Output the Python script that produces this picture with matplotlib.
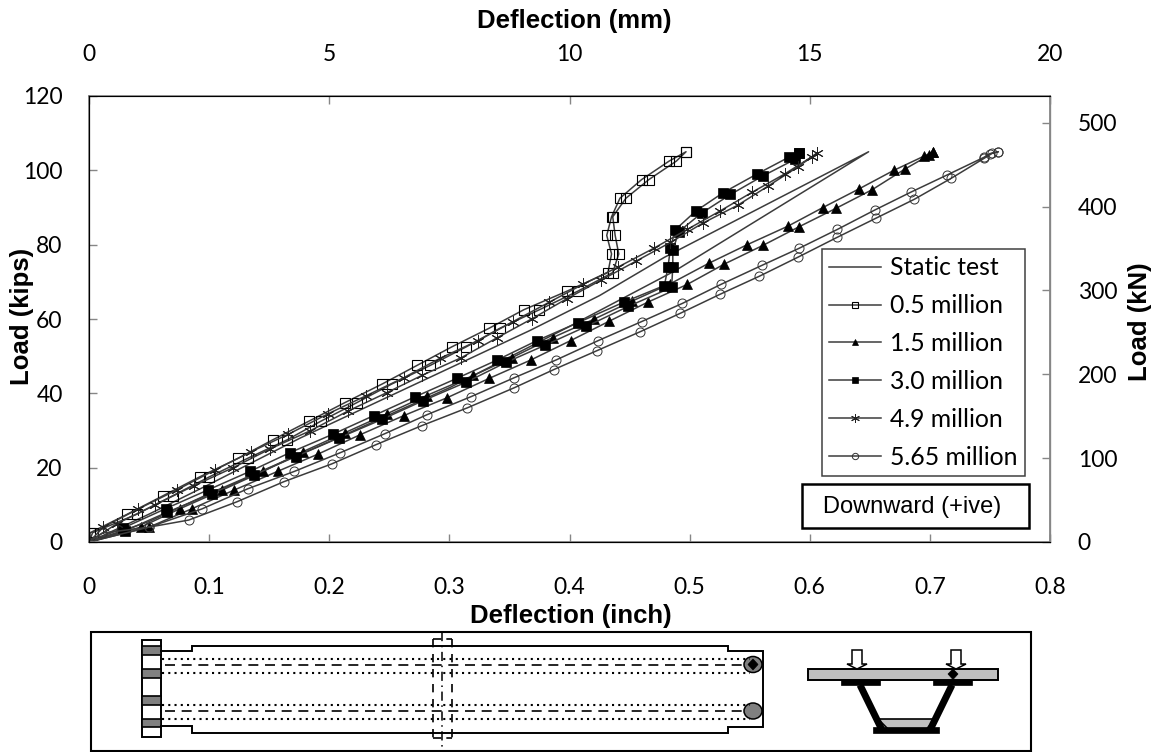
import matplotlib
matplotlib.use("Agg")
import matplotlib.pyplot as plt
import numpy as np
from matplotlib.patches import Rectangle, Ellipse, Polygon

# load (kips) and deflection (inch), loading branch then unloading branch
static_p_a = [0, 7.5, 15.5, 28, 56.9, 66.3, 76.6, 105]
static_x_a = [0, .05, .1, .176, .367, .425, .479, .649]
static_p_b = [0, 5.5, 13, 27, 41.5, 58, 73, 105]
static_x_b = [0, .05, .1, .2, .3, .4, .488, .649]

m05_p = [0, 2.5, 7.5, 12.5, 17.5, 22.5, 27.5, 32.5, 37.5, 42.5, 47.5, 52.5, 57.5, 62.5, 67.5,
         72.5, 77.5, 82.5, 87.5, 92.5, 97.5, 102.5, 105]
m05_x_a = [0, .001, .032, .062, .092, .124, .153, .183, .213, .244, .273, .302, .333, .362, .398,
           .432, .435, .431, .435, .442, .460, .483, .497]
m05_x_b = [0, .003, .040, .070, .100, .132, .165, .193, .223, .252, .284, .314, .342, .375, .407,
           .436, .441, .438, .436, .447, .466, .489, .497]

m15_p_a = [0, 4, 9, 14, 19, 24.3, 29.4, 34.5, 39.4, 44.8, 49.6, 55, 59.9, 64.8, 69.5, 75, 80, 85,
           90, 95, 100, 103.8, 105]
m15_x_a = [0, .043, .076, .111, .145, .178, .213, .248, .281, .320, .352, .386, .420, .452, .484,
           .516, .548, .582, .611, .641, .670, .695, .703]
m15_p_b = [0, 4, 9, 14, 19, 23.7, 28.9, 34, 38.8, 44, 49, 54.2, 59.4, 64.5, 69.3, 74.8, 79.8, 84.8,
           89.8, 94.8, 100.3, 104, 105]
m15_x_b = [0, .050, .086, .121, .157, .191, .226, .262, .298, .333, .368, .401, .433, .465, .498,
           .529, .561, .591, .622, .652, .679, .699, .703]

m30_p_a = [0, 3.7, 9, 14, 19, 24, 29, 34, 39, 44, 49, 54.2, 59, 64.5, 69, 74, 79, 84, 89, 94, 99,
           103.6, 104.6]
m30_x_a = [0, .028, .064, .099, .134, .167, .203, .237, .271, .306, .340, .373, .407, .445, .479,
           .482, .484, .488, .505, .528, .556, .583, .591]
m30_p_b = [0, 3, 8, 13, 18, 23, 28, 33, 38, 43, 48.3, 53, 58, 63.4, 68.5, 74, 78.5, 83.5, 88.5,
           93.5, 98.5, 103, 104.6]
m30_x_b = [0, .030, .065, .102, .137, .172, .208, .244, .278, .314, .347, .380, .414, .449, .485,
           .486, .486, .491, .510, .534, .561, .588, .591]

m49_p_a = [0, 4, 8.9, 14, 19.4, 24.3, 29, 34.5, 39.4, 44.2, 49.4, 54.2, 59.3, 64.5, 69.3, 73.9, 79,
           84.1, 89, 94.1, 99, 103.7]
m49_x_a = [0, .012, .041, .073, .105, .135, .166, .199, .231, .262, .292, .324, .353, .383, .411,
           .440, .470, .498, .525, .552, .579, .602]
m49_p_b = [0, 4.9, 10, 15.1, 20, 25.1, 29.9, 35.3, 40.2, 44.8, 49.6, 55, 60.1, 65.5, 70.4, 75.5,
           80.6, 85.8, 90.6, 95.7, 100.9, 104.6]
m49_x_b = [0, .023, .055, .087, .120, .151, .184, .216, .248, .277, .310, .340, .369, .398, .426,
           .455, .484, .511, .540, .565, .590, .606]

m565_p_a = [0, 2.4, 4, 8.9, 14.3, 19, 24, 29.1, 34.2, 39.1, 44.2, 49, 54.2, 59.3, 64.2, 69.3, 74.4,
            79, 84.1, 89.3, 94.1, 98.7, 103.5, 104.5, 105]
m565_x_a = [0, .011, .05, .094, .132, .171, .209, .246, .281, .318, .354, .389, .424, .460, .494,
            .526, .560, .591, .623, .654, .684, .714, .745, .750, .757]
m565_p_b = [0, 4, 5.9, 10.8, 16.2, 21, 26.2, 31.3, 36.1, 41.5, 46.4, 51.5, 56.6, 61.5, 66.6, 71.5,
            76.6, 82, 87.1, 92.2, 97.9, 103.2, 104.6, 105]
m565_x_b = [0, .05, .083, .123, .162, .202, .239, .277, .315, .354, .387, .423, .459, .492, .525,
            .558, .590, .623, .655, .687, .718, .745, .752, .757]

x_ticks = [0, .1, .2, .3, .4, .5, .6, .7, .8]
x_tick_labels = ["0", "0.1", "0.2", "0.3", "0.4", "0.5", "0.6", "0.7", "0.8"]
y_ticks = [0, 20, 40, 60, 80, 100, 120]
mm_ticks = [0, 5, 10, 15, 20]
kn_ticks = [0, 100, 200, 300, 400, 500]

W, H = 1157, 752
GRAY = "#868686"
LINE = "#3c3c3c"
TICK_FONT = "Lato"
BOLD = "Liberation Sans"
LABEL_SIZE = 18.5

fig = plt.figure(figsize=(W / 100, H / 100), dpi=100)
ax = fig.add_axes([89 / W, 1 - 542 / H, 961 / W, 446 / H])


def loop(pa, xa, pb, xb):
    return np.r_[xa, xb[::-1]], np.r_[pa, pb[::-1]]


def label_at(axis, px, py):
    # put an axis label at a picture position, given in pixels
    axis.set_label_coords((px - 89) / 961, (542 - py) / 446)
    axis.label.set_va("center")
    axis.label.set_ha("center")


x, p = loop(static_p_a, static_x_a, static_p_b, static_x_b)
ax.plot(x, p, color=LINE, lw=1.1, label="Static test")

x, p = loop(m05_p, m05_x_a, m05_p, m05_x_b)
ax.plot(x, p, color=LINE, lw=1.1, marker="s", ms=6.5, mfc="none", mec="k", mew=0.8, label="0.5 million")

x, p = loop(m15_p_a, m15_x_a, m15_p_b, m15_x_b)
ax.plot(x, p, color=LINE, lw=1.1, marker="^", ms=6.5, mfc="k", mec="k", mew=0.5, label="1.5 million")

x, p = loop(m30_p_a, m30_x_a, m30_p_b, m30_x_b)
ax.plot(x, p, color=LINE, lw=1.1, marker="s", ms=6.5, mfc="k", mec="k", mew=0.5, label="3.0 million")

x, p = loop(m49_p_a, m49_x_a, m49_p_b, m49_x_b)
ax.plot(x, p, color=LINE, lw=1.1, marker=(6, 2, 0), ms=9, mec="#222222", mew=0.7, label="4.9 million")

x, p = loop(m565_p_a, m565_x_a, m565_p_b, m565_x_b)
ax.plot(x, p, color=LINE, lw=1.1, marker="o", ms=6.5, mfc="none", mec="#333333", mew=0.7, label="5.65 million")

ax.set_xlim(0, .8)
ax.set_ylim(0, 120)
ax.set_xticks(x_ticks)
ax.set_xticklabels(x_tick_labels)
ax.set_yticks(y_ticks)
ax.tick_params(axis="x", direction="in", length=6, width=1, color=GRAY, pad=25,
               labelsize=16.5, labelfontfamily=TICK_FONT)
ax.tick_params(axis="y", direction="in", length=6, width=1, color=GRAY, pad=19,
               labelsize=16.5, labelfontfamily=TICK_FONT)
for s in ax.spines.values():
    s.set_color(GRAY)
    s.set_linewidth(1.2)
ax.set_xlabel("Deflection (inch)", fontname=BOLD, fontweight="bold", fontsize=LABEL_SIZE)
label_at(ax.xaxis, 571, 616)
ax.set_ylabel("Load (kips)", fontname=BOLD, fontweight="bold", fontsize=LABEL_SIZE)
label_at(ax.yaxis, 22, 316)
ax.patch.set_alpha(0)
ax.set_zorder(3)

top = ax.twiny()
top.set_xlim(0, 20)
top.set_xticks(mm_ticks)
top.tick_params(axis="x", direction="in", length=6, width=1, color=GRAY, pad=22,
                labelsize=16.5, labelfontfamily=TICK_FONT)
top.set_xlabel("Deflection (mm)", fontname=BOLD, fontweight="bold", fontsize=LABEL_SIZE)
label_at(top.xaxis, 574, 21)
top.spines["top"].set_color(GRAY)

right = ax.twinx()
right.set_ylim(0, 532)
right.set_yticks(kn_ticks)
right.tick_params(axis="y", direction="in", length=6, width=1, color=GRAY, pad=20,
                  labelsize=16.5, labelfontfamily=TICK_FONT)
right.set_ylabel("Load (kN)", fontname=BOLD, fontweight="bold", fontsize=LABEL_SIZE)
label_at(right.yaxis, 1140, 322)
right.spines["right"].set_color(GRAY)

leg = ax.legend(loc="upper left", bbox_to_anchor=((822 - 89) / 961, (542 - 249) / 446),
                borderaxespad=0, fancybox=False, framealpha=1, edgecolor="#404040",
                prop={"family": TICK_FONT, "size": 17.8}, handlelength=2.1, handletextpad=0.36,
                labelspacing=0.6, borderpad=0.3, markerscale=0.7)
leg.get_frame().set_linewidth(1.1)

# pixel overlay for the note box and the specimen sketch
ov = fig.add_axes([0, 0, 1, 1], zorder=5)
ov.set_xlim(0, W)
ov.set_ylim(H, 0)
ov.axis("off")

ov.add_patch(Rectangle((802, 484), 227, 44, fc="w", ec="k", lw=1.8))
ov.text(912, 507, "Downward (+ive)", ha="center", va="center", fontname=BOLD, fontsize=17)

# plan view
ov.add_patch(Rectangle((91, 631.5), 940, 119, fc="w", ec="k", lw=1.5))
outline_x = [161, 192, 192, 728, 728, 763, 763, 728, 728, 192, 192, 161]
outline_y = [651, 651, 645.5, 645.5, 651, 651, 727, 727, 733, 733, 726, 726]
ov.plot(outline_x, outline_y, color="k", lw=1.4, solid_joinstyle="miter")
ov.add_patch(Rectangle((142, 639.5), 19, 97, fc="w", ec="k", lw=1.4))
for y0, y1 in [(645.5, 655), (668.5, 677.5), (696, 705), (719, 727)]:
    ov.add_patch(Rectangle((142, y0), 19, y1 - y0, fc="#808080", ec="k", lw=1.2))
for y in [659, 673, 705, 719]:
    ov.plot([162, 750], [y, y], color="k", lw=1.5, ls=(0, (1, 2)))
for y in [665, 711]:
    ov.plot([165, 746], [y, y], color="k", lw=1.2, ls=(0, (6, 4)))
for xv in [432.5, 452]:
    ov.plot([xv, xv], [639, 738], color="k", lw=1.2, ls=(0, (5, 4)))
ov.plot([432.5, 452], [639, 639], color="k", lw=1.2, ls=(0, (5, 3)))
ov.plot([432.5, 452], [738, 738], color="k", lw=1.2, ls=(0, (5, 3)))
ov.plot([442, 442], [632, 749], color="k", lw=1.1, ls=(0, (6, 3, 1, 3)))
ov.add_patch(Ellipse((753, 664.5), 18, 16, fc="#808080", ec="k", lw=1.1))
ov.add_patch(Ellipse((753, 711), 18, 16, fc="#808080", ec="k", lw=1.1))
ov.add_patch(Polygon([(753, 659), (758, 664.5), (753, 670), (748, 664.5)], fc="k", ec="k", lw=0.5))

# cross section
ov.add_patch(Polygon([(878, 719), (935, 719), (925, 731), (890, 731)], fc="#c0c0c0", ec="k", lw=1.2))
ov.add_patch(Rectangle((808, 669), 190, 11, fc="#c0c0c0", ec="k", lw=1.4))
ov.add_patch(Rectangle((840.5, 680), 39.5, 5, fc="k", ec="k", lw=0.5))
ov.add_patch(Rectangle((933, 680), 39, 5, fc="k", ec="k", lw=0.5))
ov.add_patch(Rectangle((873, 727), 66, 6, fc="k", ec="k", lw=0.5))
ov.plot([860, 882], [685, 730], color="k", lw=5, solid_capstyle="butt")
ov.plot([952, 930], [685, 730], color="k", lw=5, solid_capstyle="butt")
ov.add_patch(Polygon([(953, 669), (958, 674), (953, 679.5), (948, 674)], fc="k", ec="k", lw=0.5))
for cx in [857, 956]:
    arrow = [(cx - 5, 650), (cx + 5, 650), (cx + 5, 664), (cx + 10, 664), (cx, 669), (cx - 10, 664), (cx - 5, 664)]
    ov.add_patch(Polygon(arrow, fc="w", ec="k", lw=1.1))

fig.savefig("out.png", dpi=100)
